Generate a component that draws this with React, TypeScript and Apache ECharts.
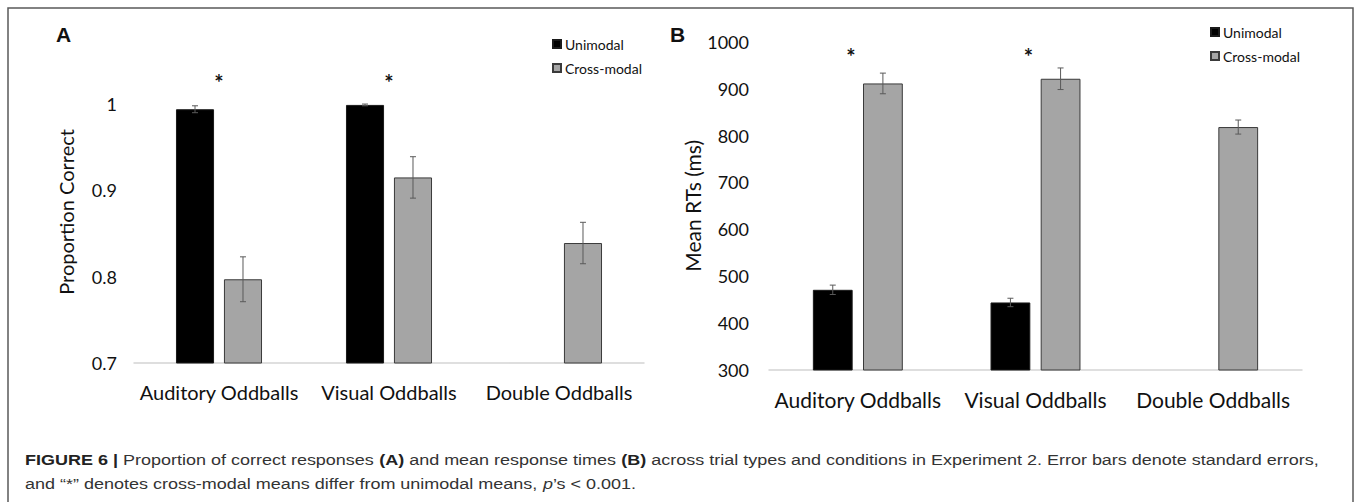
import React, { useEffect, useRef } from "react";
import * as echarts from "echarts";

const categories = ["Auditory Oddballs", "Visual Oddballs", "Double Oddballs"];
const seriesNames = ["Unimodal", "Cross-modal"];

// Panel A: proportion correct
const accUnimodal: (number | null)[] = [0.994, 0.999, null];
const accUnimodalErr: (number | null)[] = [0.004, 0.001, null];
const accCrossmodal: (number | null)[] = [0.797, 0.915, 0.839];
const accCrossmodalErr: (number | null)[] = [0.026, 0.024, 0.024];
const accStars: [number, number][] = [[0, 1.0255], [1, 1.0255]];

// Panel B: mean RTs (ms)
const rtUnimodal: (number | null)[] = [471, 444, null];
const rtUnimodalErr: (number | null)[] = [10, 9, null];
const rtCrossmodal: (number | null)[] = [911, 921, 818];
const rtCrossmodalErr: (number | null)[] = [22, 23, 15];
const rtStars: [number, number][] = [[0, 969], [1, 969]];

const captionLine1 =
  "{b|FIGURE 6 |} Proportion of correct responses {b|(A)} and mean response times {b|(B)} across trial types and conditions in Experiment 2. Error bars denote standard errors,";
const captionLine2 =
  "and \u201c*\u201d denotes cross-modal means differ from unimodal means, {i|p}\u2019s < 0.001.";

const BAR_FRAC = 0.224;
const GAP_FRAC = 0.26;
const CHART_FONT = "Lato, 'Open Sans', sans-serif";
const CAPTION_FONT = "'Liberation Sans', Arial, sans-serif";
const TEXT = "#111111";

function errorSeries(ax: number, values: (number | null)[], errs: (number | null)[], side: number) {
  const data: number[][] = [];
  values.forEach((v, i) => {
    const e = errs[i];
    if (v != null && e != null) data.push([i, v - e, v + e]);
  });
  return {
    type: "custom",
    xAxisIndex: ax,
    yAxisIndex: ax,
    silent: true,
    z: 5,
    encode: { x: 0, y: [1, 2] },
    data,
    renderItem: (_params: any, api: any) => {
      const i = api.value(0);
      const lo = api.coord([i, api.value(1)]);
      const hi = api.coord([i, api.value(2)]);
      const band = api.size([1, 0])[0];
      const bw = band * BAR_FRAC;
      const gap = bw * GAP_FRAC;
      const x = lo[0] + (side * (bw + gap)) / 2;
      const cap = 3;
      const st = { stroke: "#5a5a5a", lineWidth: 1 };
      return {
        type: "group",
        children: [
          { type: "line", shape: { x1: x, y1: lo[1], x2: x, y2: hi[1] }, style: st },
          { type: "line", shape: { x1: x - cap, y1: lo[1], x2: x + cap, y2: lo[1] }, style: st },
          { type: "line", shape: { x1: x - cap, y1: hi[1], x2: x + cap, y2: hi[1] }, style: st },
        ],
      };
    },
  };
}

function starSeries(ax: number, stars: [number, number][], dx: number) {
  return {
    type: "custom",
    xAxisIndex: ax,
    yAxisIndex: ax,
    silent: true,
    z: 6,
    data: stars,
    renderItem: (_params: any, api: any) => {
      const p = api.coord([api.value(0), api.value(1)]);
      return {
        type: "text",
        x: p[0] + dx,
        y: p[1],
        style: {
          text: "*",
          fontSize: 22,
          fontWeight: "bold",
          fontFamily: CHART_FONT,
          fill: "#111",
          align: "center",
          verticalAlign: "middle",
        },
      };
    },
  };
}

function barSeries(ax: number, name: string, values: (number | null)[], uni: boolean) {
  return {
    type: "bar",
    name,
    xAxisIndex: ax,
    yAxisIndex: ax,
    barWidth: (BAR_FRAC * 100).toFixed(1) + "%",
    barGap: (GAP_FRAC * 100).toFixed(0) + "%",
    data: values.map((v) => (v == null ? "-" : v)),
    itemStyle: uni
      ? { color: "#000000", borderColor: "#1a1a1a", borderWidth: 1 }
      : { color: "#a5a5a5", borderColor: "#3a3a3a", borderWidth: 1 },
  };
}

export default function App() {
  const ref = useRef<HTMLDivElement>(null);
  useEffect(() => {
    document.body.style.margin = "0";
    if (!ref.current) return;
    const chart = echarts.init(ref.current, undefined, { renderer: "svg" });
    const xAxisCommon = (fontSize: number, margin: number) => ({
      type: "category",
      data: categories,
      axisTick: { show: false },
      axisLine: { lineStyle: { color: "#d4d4d4", width: 1.5 } },
      axisLabel: { color: TEXT, fontFamily: CHART_FONT, fontSize, margin, interval: 0 },
    });
    const legendCommon = {
      orient: "vertical",
      data: seriesNames,
      icon: "rect",
      itemWidth: 8,
      itemHeight: 8,
      itemGap: 10,
      textStyle: { color: TEXT, fontFamily: CHART_FONT, fontSize: 14, padding: [0, 0, 0, -1] },
      padding: 0,
    };
    const capText = (text: string, y: number) => ({
      type: "text",
      x: 25,
      y,
      scaleX: 1.2,
      style: {
        text,
        fontFamily: CAPTION_FONT,
        fontSize: 15,
        fill: "#333",
        verticalAlign: "middle",
        rich: {
          b: { fontWeight: "bold", fontSize: 15, fill: "#222", fontFamily: CAPTION_FONT },
          i: { fontStyle: "italic", fontSize: 15, fill: "#333", fontFamily: CAPTION_FONT },
        },
      },
    });
    chart.setOption({
      animation: false,
      backgroundColor: "#ffffff",
      grid: [
        { left: 134, top: 60.9, width: 510, height: 302.1 },
        { left: 769, top: 41.7, width: 533, height: 328.3 },
      ],
      xAxis: [
        { ...xAxisCommon(20, 19), gridIndex: 0 },
        { ...xAxisCommon(21, 19), gridIndex: 1 },
      ],
      yAxis: [
        {
          type: "value",
          gridIndex: 0,
          min: 0.7,
          max: 1.05,
          interval: 0.1,
          name: "Proportion Correct",
          nameLocation: "middle",
          nameGap: 58,
          nameTextStyle: { color: TEXT, fontFamily: CHART_FONT, fontSize: 20 },
          axisLine: { show: false },
          axisTick: { show: false },
          splitLine: { show: false },
          axisLabel: { color: TEXT, fontFamily: CHART_FONT, fontSize: 18, margin: 17, showMaxLabel: false },
        },
        {
          type: "value",
          gridIndex: 1,
          min: 300,
          max: 1000,
          interval: 100,
          name: "Mean RTs (ms)",
          nameLocation: "middle",
          nameGap: 60,
          nameTextStyle: { color: TEXT, fontFamily: CHART_FONT, fontSize: 21 },
          axisLine: { show: false },
          axisTick: { show: false },
          splitLine: { show: false },
          axisLabel: {
            color: TEXT,
            fontFamily: CHART_FONT,
            fontSize: 18,
            margin: 20,
            formatter: (v: number) => String(v),
          },
        },
      ],
      legend: [
        { ...legendCommon, left: 552, top: 37 },
        { ...legendCommon, left: 1210, top: 25 },
      ],
      series: [
        barSeries(0, seriesNames[0], accUnimodal, true),
        barSeries(0, seriesNames[1], accCrossmodal, false),
        barSeries(1, seriesNames[0], rtUnimodal, true),
        barSeries(1, seriesNames[1], rtCrossmodal, false),
        errorSeries(0, accUnimodal, accUnimodalErr, -1),
        errorSeries(0, accCrossmodal, accCrossmodalErr, 1),
        errorSeries(1, rtUnimodal, rtUnimodalErr, -1),
        errorSeries(1, rtCrossmodal, rtCrossmodalErr, 1),
        starSeries(0, accStars, 0),
        starSeries(1, rtStars, -7),
      ],
      graphic: [
        {
          type: "rect",
          shape: { x: 8, y: 8, width: 1345, height: 510 },
          style: { fill: "none", stroke: "#5a5a5a", lineWidth: 1.5 },
          silent: true,
        },
        {
          type: "text",
          x: 56,
          y: 34,
          style: {
            text: "A",
            fontFamily: CAPTION_FONT,
            fontWeight: "bold",
            fontSize: 21,
            fill: "#111",
            verticalAlign: "middle",
          },
        },
        {
          type: "text",
          x: 670,
          y: 34,
          style: {
            text: "B",
            fontFamily: CAPTION_FONT,
            fontWeight: "bold",
            fontSize: 21,
            fill: "#111",
            verticalAlign: "middle",
          },
        },
        capText(captionLine1, 460),
        capText(captionLine2, 484),
      ],
    });
    return () => chart.dispose();
  }, []);
  return <div ref={ref} style={{ width: 1357, height: 502 }} />;
}
